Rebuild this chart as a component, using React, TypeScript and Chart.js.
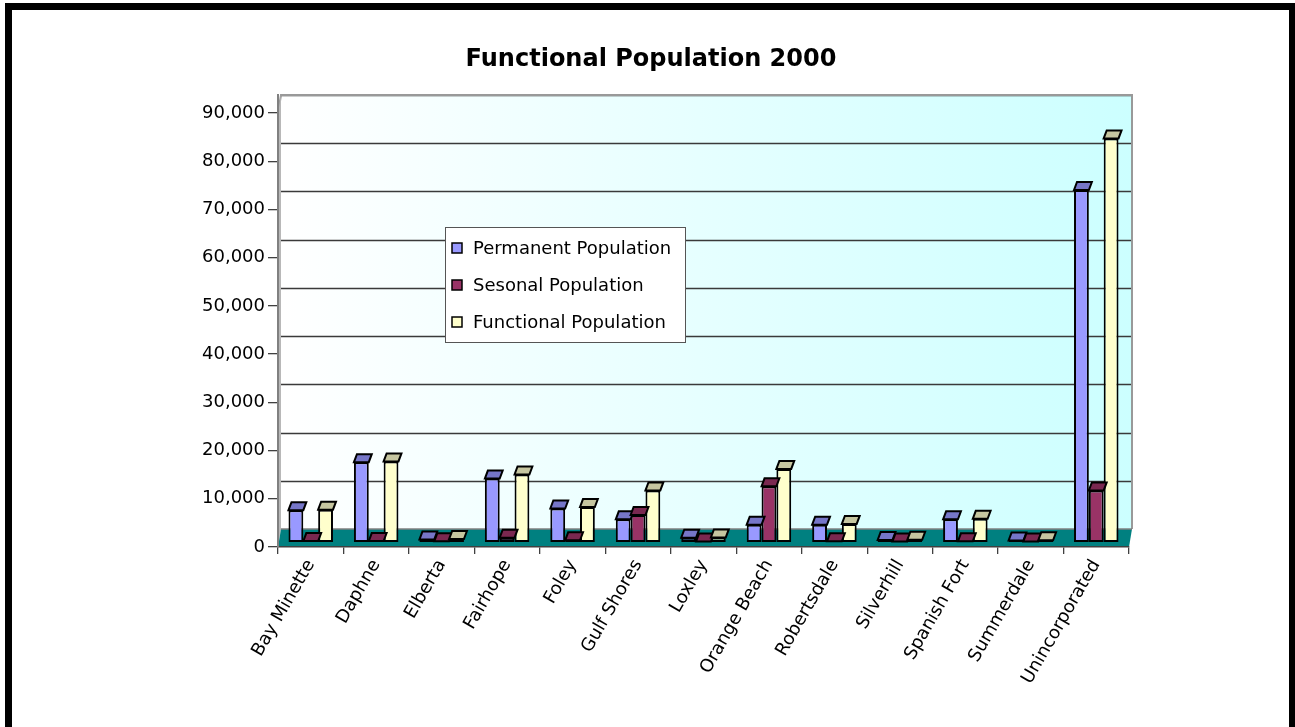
import React, { useEffect, useRef } from "react";
import { Chart, registerables } from "chart.js";

Chart.register(...registerables);

const categories = [
  "Bay Minette",
  "Daphne",
  "Elberta",
  "Fairhope",
  "Foley",
  "Gulf Shores",
  "Loxley",
  "Orange Beach",
  "Robertsdale",
  "Silverhill",
  "Spanish Fort",
  "Summerdale",
  "Unincorporated",
];
const seriesNames = ["Permanent Population", "Sesonal Population", "Functional Population"];
const permanent = [6600, 16550, 500, 13150, 6950, 4700, 900, 3600, 3600, 400, 4700, 300, 73000];
const seasonal = [200, 200, 150, 900, 350, 5600, 100, 11550, 150, 100, 150, 100, 10700];
const functional = [6700, 16700, 600, 14000, 7250, 10700, 950, 15150, 3750, 450, 4800, 350, 83700];
const yTicks = [0, 10000, 20000, 30000, 40000, 50000, 60000, 70000, 80000, 90000];
const titleText = "Functional Population 2000";

const faceColors = ["#9999ff", "#993366", "#ffffcc"];
const capColors = ["#7676c8", "#7a2850", "#c6c6a0"];

const FONT = "'DejaVu Sans', sans-serif";
const DEPTH_X = 3;

const wallPlugin = {
  id: "wall3d",
  beforeDraw(chart: any) {
    const { ctx, chartArea, scales } = chart;
    const y = scales.y;
    const yb = scales.yBack;
    const left = chartArea.left;
    const right = chartArea.right;
    const front0 = y.getPixelForValue(0);
    const frontTop = y.getPixelForValue(yTicks[yTicks.length - 1]);
    const back0 = yb.getPixelForValue(0);
    const backTop = yb.getPixelForValue(yTicks[yTicks.length - 1]);
    ctx.save();
    // title
    ctx.fillStyle = "#000000";
    ctx.font = `bold 24px ${FONT}`;
    ctx.textAlign = "center";
    ctx.textBaseline = "middle";
    ctx.fillText(titleText, 651, 60);
    // back wall
    const g = ctx.createLinearGradient(left + DEPTH_X, 0, right + DEPTH_X, 0);
    g.addColorStop(0, "#ffffff");
    g.addColorStop(1, "#ccffff");
    ctx.fillStyle = g;
    ctx.fillRect(left + DEPTH_X, backTop, right - left, back0 - backTop);
    // gridlines on back wall
    ctx.strokeStyle = "#3a3a3a";
    ctx.lineWidth = 1.3;
    yTicks.forEach((v) => {
      if (v === 0) return;
      const py = Math.round(yb.getPixelForValue(v)) + 0.5;
      ctx.beginPath();
      ctx.moveTo(left + DEPTH_X, py);
      ctx.lineTo(right + DEPTH_X, py);
      ctx.stroke();
    });
    // wall border
    ctx.strokeStyle = "#999999";
    ctx.lineWidth = 2;
    ctx.beginPath();
    ctx.moveTo(left, frontTop);
    ctx.lineTo(left + DEPTH_X, backTop);
    ctx.lineTo(right + DEPTH_X, backTop);
    ctx.lineTo(right + DEPTH_X, back0);
    ctx.stroke();
    // left wall
    ctx.fillStyle = "#b8b8b8";
    ctx.beginPath();
    ctx.moveTo(left, frontTop);
    ctx.lineTo(left + DEPTH_X, backTop);
    ctx.lineTo(left + DEPTH_X, back0);
    ctx.lineTo(left, front0);
    ctx.closePath();
    ctx.fill();
    // floor
    ctx.fillStyle = "#008080";
    ctx.beginPath();
    ctx.moveTo(left, front0);
    ctx.lineTo(right, front0);
    ctx.lineTo(right + DEPTH_X, back0);
    ctx.lineTo(left + DEPTH_X, back0);
    ctx.closePath();
    ctx.fill();
    ctx.strokeStyle = "#808080";
    ctx.lineWidth = 1.5;
    ctx.beginPath();
    ctx.moveTo(left + DEPTH_X, back0);
    ctx.lineTo(right + DEPTH_X, back0);
    ctx.stroke();
    ctx.restore();
  },
};

const capPlugin = {
  id: "caps3d",
  afterDatasetsDraw(chart: any) {
    const { ctx } = chart;
    ctx.save();
    ctx.lineJoin = "miter";
    chart.data.datasets.forEach((ds: any, di: number) => {
      const meta = chart.getDatasetMeta(di);
      meta.data.forEach((el: any) => {
        const p = el.getProps(["x", "y", "width"], true);
        const xl = p.x - p.width / 2;
        const xr = p.x + p.width / 2;
        const top = p.y;
        const depthY = 8;
        ctx.fillStyle = capColors[di];
        ctx.strokeStyle = "#000000";
        ctx.lineWidth = 2;
        ctx.beginPath();
        ctx.moveTo(xl, top);
        ctx.lineTo(xl + DEPTH_X, top - depthY);
        ctx.lineTo(xr + DEPTH_X, top - depthY);
        ctx.lineTo(xr, top);
        ctx.closePath();
        ctx.fill();
        ctx.stroke();
      });
    });
    ctx.restore();
  },
};

const legendPlugin = {
  id: "boxLegend",
  afterDraw(chart: any) {
    const { ctx } = chart;
    const bx = 445;
    const by = 227;
    const bw = 240;
    const bh = 115;
    ctx.save();
    ctx.fillStyle = "#ffffff";
    ctx.fillRect(bx, by, bw, bh);
    ctx.strokeStyle = "#555555";
    ctx.lineWidth = 1;
    ctx.strokeRect(bx + 0.5, by + 0.5, bw, bh);
    ctx.font = `18px ${FONT}`;
    ctx.textBaseline = "middle";
    ctx.textAlign = "left";
    chart.data.datasets.forEach((ds: any, i: number) => {
      const cy = by + 21 + i * 37;
      ctx.fillStyle = faceColors[i];
      ctx.fillRect(bx + 7, cy - 5, 10, 10);
      ctx.strokeStyle = "#000000";
      ctx.lineWidth = 1.5;
      ctx.strokeRect(bx + 7, cy - 5, 10, 10);
      ctx.fillStyle = "#000000";
      ctx.fillText(ds.label, bx + 28, cy + 1);
    });
    ctx.restore();
  },
};

function ChartView() {
  const ref = useRef<HTMLCanvasElement | null>(null);
  useEffect(() => {
    if (!ref.current) return;
    const values = [permanent, seasonal, functional];
    const chart = new Chart(ref.current, {
      type: "bar",
      data: {
        labels: categories,
        datasets: seriesNames.map((name, i) => ({
          label: name,
          data: values[i],
          backgroundColor: faceColors[i],
          borderColor: "#000000",
          borderWidth: 2,
          borderSkipped: false,
          yAxisID: "yBar",
          categoryPercentage: 0.68,
          barPercentage: 1.0,
        })),
      },
      options: {
        responsive: false,
        animation: false,
        events: [],
        layout: { padding: { left: 0, right: 166, top: 95, bottom: 0 } },
        plugins: {
          legend: { display: false },
          tooltip: { enabled: false },
          title: { display: false },
        },
        scales: {
          x: {
            offset: true,
            grid: {
              offset: true,
              drawOnChartArea: false,
              drawTicks: true,
              tickLength: 7,
              color: "#404040",
              lineWidth: 1.3,
            },
            border: { display: true, color: "#404040", width: 1.5 },
            ticks: {
              autoSkip: false,
              minRotation: 60,
              maxRotation: 60,
              color: "#000000",
              font: { family: FONT, size: 18 },
              padding: 2,
            },
            afterFit: (s: any) => {
              s.height = 180;
            },
          },
          y: {
            position: "left",
            min: 0,
            max: 93733,
            afterBuildTicks: (s: any) => {
              s.ticks = yTicks.map((v) => ({ value: v }));
            },
            grid: {
              drawOnChartArea: false,
              drawTicks: true,
              tickLength: 10,
              color: "#404040",
              lineWidth: 1.3,
            },
            border: { display: true, color: "#808080", width: 2 },
            ticks: {
              color: "#000000",
              font: { family: FONT, size: 18 },
              padding: 3,
              callback: (v: any) => Number(v).toLocaleString("en-US"),
            },
            afterFit: (s: any) => {
              s.width = 278;
            },
          },
          yBar: { display: false, position: "right", min: -1037, max: 92696 },
          yBack: { display: false, position: "right", min: -3733, max: 90000 },
        },
      },
      plugins: [wallPlugin, capPlugin, legendPlugin],
    } as any);
    return () => chart.destroy();
  }, []);
  return <canvas ref={ref} width={1295} height={727} style={{ position: "absolute", left: 0, top: 0 }} />;
}

export default function App() {
  return (
    <div
      style={{
        position: "fixed",
        left: 0,
        top: 0,
        width: 1295,
        height: 727,
        overflow: "hidden",
        background: "#ffffff",
      }}
    >
      <div
        style={{
          position: "absolute",
          left: 5,
          top: 3,
          width: 1290,
          height: 1000,
          boxSizing: "border-box",
          borderTop: "7px solid #000",
          borderLeft: "7px solid #000",
          borderRight: "6px solid #000",
        }}
      />
      <ChartView />
    </div>
  );
}
